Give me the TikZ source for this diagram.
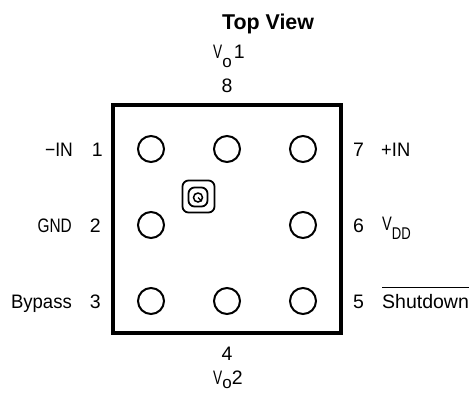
\documentclass[tikz,border=0pt]{standalone}
\usepackage{fontspec}
\setmainfont{Liberation Sans}
\newcommand{\nar}[2]{\scalebox{#1}[1]{#2}}
\newcommand{\subtxt}[3]{\raisebox{#1}{\fontsize{17}{17}\selectfont\scalebox{#2}[1]{#3}}}
\tikzset{
  pkgbox/.style={draw=black,line width=3.2pt,minimum width=228pt,minimum height=228pt,inner sep=0pt},
  pad/.style={circle,draw=black,line width=2pt,minimum size=26pt,inner sep=0pt},
  lbl/.style={inner sep=0pt,font=\fontsize{19.5}{19.5}\selectfont,text=black},
  lblr/.style={lbl,anchor=base east},
  lbll/.style={lbl,anchor=base west},
  lblc/.style={lbl,anchor=base},
  ttl/.style={inner sep=0pt,anchor=base,font=\fontsize{21.4}{21.4}\selectfont\bfseries},
  mark1/.style={draw=black,line width=1.8pt,rounded corners=6pt,minimum size=32pt,inner sep=0pt},
  mark2/.style={draw=black,line width=1.8pt,rounded corners=6pt,minimum size=19pt,inner sep=0pt},
  mark3/.style={circle,draw=black,line width=1.5pt,minimum size=9pt,inner sep=0pt},
}
\begin{document}
\begin{tikzpicture}[x=1pt,y=-1pt]
\useasboundingbox (0,0) rectangle (472,392);
\node[pkgbox] (pkg) at (227,219) {};
\foreach \n/\x/\y in {a/151/149,b/227/149,c/303/149,d/151/225,e/303/225,f/151/301,g/227/301,h/303/301}
  \node[pad] (\n) at (\x,\y) {};
\node[mark1] (m1) at (198.5,196.5) {};
\node[mark2] (m2) at (198,197) {};
\node[mark3] (m3) at (198,197.5) {};
\draw[line width=1.2pt] (m3.center) -- (m3.south east);
\node[ttl] (title) at (268,29) {Top View};
\node[lbl,anchor=base west] (vo1) at (213,58) {\nar{.7}{V}\subtxt{-9pt}{1}{o}\hspace{2pt}1};
\node[lblc] (p8) at (227,92) {8};
\node[lblc] (p4) at (227,360) {4};
\node[lbl,anchor=base west] (vo2) at (213,384) {\nar{.7}{V}\subtxt{-4pt}{1}{o}2};
\node[lblr] (p1) at (103,156) {1};
\node[lblr] (p2) at (101,232) {2};
\node[lblr] (p3) at (101,308) {3};
\node[lblr] (inm) at (73,156) {\nar{.9}{−IN}};
\node[lblr] (gnd) at (72,232) {\nar{.79}{GND}};
\node[lblr] (byp) at (72,308) {\nar{.95}{Bypass}};
\node[lbll] (p7) at (353,156) {7};
\node[lbll] (p6) at (353,232) {6};
\node[lbll] (p5) at (353,308) {5};
\node[lbll] (inp) at (381,156) {\nar{.94}{+IN}};
\node[lbll] (vdd) at (382,230) {\nar{.75}{V}\subtxt{-9pt}{.77}{DD}};
\node[lbll] (shut) at (382,308) {Shutdown};
\draw[line width=1pt,black] ([yshift=6pt]shut.north west) -- ([yshift=6pt]shut.north east);
\end{tikzpicture}
\end{document}
